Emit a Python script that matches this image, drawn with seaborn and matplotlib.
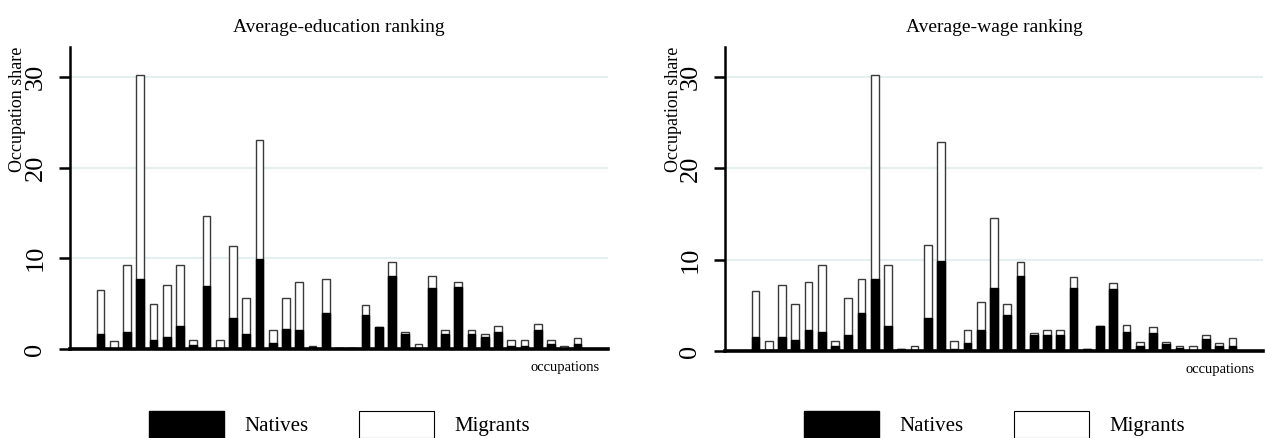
import pandas as pd
import seaborn as sns
import matplotlib.pyplot as plt
from matplotlib.patches import Patch

# occupation shares (%), bars ordered by average education
edu_total = [6.5, 0.9, 9.3, 30.2, 5.0, 7.1, 9.3, 1.0, 14.7, 1.0, 11.4, 5.6, 23.1,
             2.1, 5.6, 7.4, 0.3, 7.7, 0.1, 0.1, 4.9, 2.4, 9.6, 1.9, 0.6, 8.0,
             2.1, 7.4, 2.1, 1.6, 2.5, 1.0, 1.0, 2.8, 1.0, 0.3, 1.2]
edu_natives = [1.6, 0.0, 1.9, 7.7, 1.0, 1.3, 2.5, 0.4, 6.9, 0.05, 3.4, 1.6, 9.9,
               0.7, 2.2, 2.1, 0.2, 4.0, 0.1, 0.1, 3.7, 2.4, 8.0, 1.6, 0.1, 6.7,
               1.6, 6.8, 1.6, 1.3, 1.9, 0.3, 0.3, 2.1, 0.6, 0.0, 0.6]

# same occupations, ordered by average wage
wage_total = [6.6, 1.1, 7.2, 5.2, 7.6, 9.4, 1.1, 5.8, 7.9, 30.2, 9.4, 0.25, 0.6,
              11.6, 22.9, 1.1, 2.3, 5.4, 14.6, 5.1, 9.7, 2.0, 2.3, 2.3, 8.1, 0.2,
              2.7, 7.5, 2.9, 1.0, 2.6, 1.0, 0.5, 0.5, 1.7, 0.85, 1.4]
wage_natives = [1.5, 0.1, 1.5, 1.2, 2.3, 2.1, 0.6, 1.8, 4.2, 7.9, 2.7, 0.25, 0.1,
                3.6, 9.9, 0.2, 0.9, 2.3, 6.9, 3.9, 8.2, 1.7, 1.8, 1.8, 6.9, 0.2,
                2.7, 6.8, 2.1, 0.5, 2.0, 0.8, 0.3, 0.0, 1.3, 0.6, 0.6]

titles = ["Average-education ranking", "Average-wage ranking"]

sns.set_style("white")
plt.rcParams['font.family'] = ['Liberation Serif', 'DejaVu Serif']
plt.rcParams['text.color'] = 'black'

W, H = 1265, 438
fig = plt.figure(figsize=(W / 100, H / 100), dpi=100)

panels = [
    (edu_total, edu_natives, 70, 349, 47),
    (wage_total, wage_natives, 725, 351, 47),
]

for k, (tot, nat, x0, y0, ytop) in enumerate(panels):
    ax = fig.add_axes([x0 / W, 1 - y0 / H, 538 / W, (y0 - ytop) / H])
    df = pd.DataFrame({"occ": range(len(tot)), "total": tot, "natives": nat})

    sns.barplot(data=df, x="occ", y="total", color="white", saturation=1,
                edgecolor="#3a3a3a", linewidth=1.0, width=0.6, ax=ax, zorder=3)
    sns.barplot(data=df, x="occ", y="natives", color="black", saturation=1,
                edgecolor="black", linewidth=1.0, width=0.6, ax=ax, zorder=4)

    ax.set_xlim(-2.3, 38.3)
    ax.set_ylim(0, 33.3)
    ax.set_xlabel("")
    ax.set_ylabel("")
    ax.set_xticks([])
    ax.set_yticks([0, 10, 20, 30])
    for v in [10, 20, 30]:
        ax.axhline(v, color="#e6eff0", lw=1.6, zorder=0)

    sns.despine(ax=ax, top=True, right=True)
    ax.spines['left'].set_linewidth(1.8)
    ax.spines['left'].set_color("black")
    ax.spines['bottom'].set_linewidth(2.6)
    ax.spines['bottom'].set_color("black")
    ax.spines['bottom'].set_zorder(5)
    ax.tick_params(axis='y', direction='out', length=8, width=1.8, pad=9,
                   labelsize=19, labelrotation=90, left=True,
                   color="black", labelcolor="black")
    for lab in ax.get_yticklabels():
        lab.set_va('center')

    ax.set_title(titles[k], fontsize=14, pad=11, color="black")
    ax.text(1 - 8 / 538, -0.06, "occupations", transform=ax.transAxes,
            ha="right", va="center", fontsize=10.5)
    fig.text((x0 - 52) / W, 1 - 172 / H, "Occupation share", rotation=90,
             ha="center", va="bottom", fontsize=13)

    handles = [Patch(facecolor="black", edgecolor="black", label="Natives"),
               Patch(facecolor="white", edgecolor="black", linewidth=0.8,
                     label="Migrants")]
    ax.legend(handles=handles, loc="upper left", ncol=2, frameon=False,
              bbox_to_anchor=((x0 + 79) / W, 1 - 411 / H),
              bbox_transform=fig.transFigure, fontsize=15, labelcolor="black",
              handlelength=3.6, handleheight=1.6, handletextpad=1.0,
              columnspacing=2.4, borderpad=0, borderaxespad=0)

fig.savefig("out.png", dpi=100)
